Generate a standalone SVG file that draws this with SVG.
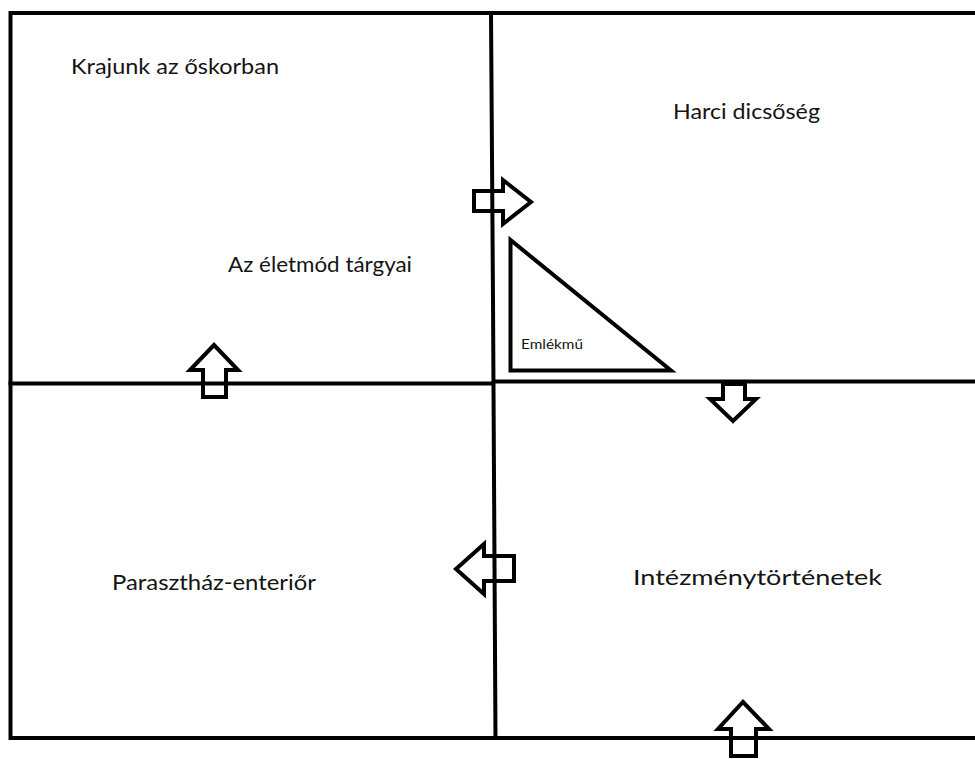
<svg xmlns="http://www.w3.org/2000/svg" width="975" height="759" viewBox="0 0 975 759">
  <style>
    .wall { stroke: #000; stroke-width: 4; fill: none; stroke-linecap: square; }
    .arrow { stroke: #000; stroke-width: 4; fill: none; stroke-linejoin: miter; }
    .label { font-family: Lato, "Open Sans", "Liberation Sans", sans-serif; font-size: 21px; fill: #141414; }
    .small { font-size: 14px; }
  </style>
  <rect width="975" height="759" fill="#fff"/>

  <!-- room walls -->
  <g id="walls">
    <polyline class="wall" points="977,13 10.5,13 10.5,738 977,738"/>
    <polyline class="wall" points="491,13 493,300 495.5,738"/>
    <line class="wall" x1="10.5" y1="383.5" x2="493" y2="383.5"/>
    <line class="wall" x1="496" y1="381.5" x2="977" y2="381.5"/>
  </g>

  <!-- memorial -->
  <g id="emlekmu">
    <polygon class="arrow" points="510.5,240 510.5,370.5 671,370.5"/>
    <text class="label small" x="521" y="349" textLength="62" lengthAdjust="spacingAndGlyphs">Emlékmű</text>
  </g>

  <!-- walking direction -->
  <g id="connectors">
    <polygon class="arrow" points="474,191 503,191 503,180 531,202 503,224 503,211 474,211"/>
    <polygon class="arrow" points="214,345 238,370 226,370 226,397 203,397 203,370 190,370"/>
    <polygon class="arrow" points="723,384 745,384 745,399 756,399 733,421 710,399 723,399"/>
    <polygon class="arrow" points="456,569 484,544 484,556 514,556 514,581 484,581 484,594"/>
    <polygon class="arrow" points="743,702 769,729 756,729 756,756 731,756 731,729 718,729"/>
  </g>

  <!-- room titles -->
  <g id="oskor"><text class="label" x="71" y="74" textLength="208" lengthAdjust="spacingAndGlyphs">Krajunk az őskorban</text></g>
  <g id="harci"><text class="label" x="673" y="119" textLength="147" lengthAdjust="spacingAndGlyphs">Harci dicsőség</text></g>
  <g id="eletmod"><text class="label" x="228" y="272" textLength="184" lengthAdjust="spacingAndGlyphs">Az életmód tárgyai</text></g>
  <g id="parasztház"><text class="label" x="112" y="590" textLength="204" lengthAdjust="spacingAndGlyphs">Parasztház-enteriőr</text></g>
  <g id="intezmeny"><text class="label" x="633" y="585" textLength="249" lengthAdjust="spacingAndGlyphs">Intézménytörténetek</text></g>
</svg>
